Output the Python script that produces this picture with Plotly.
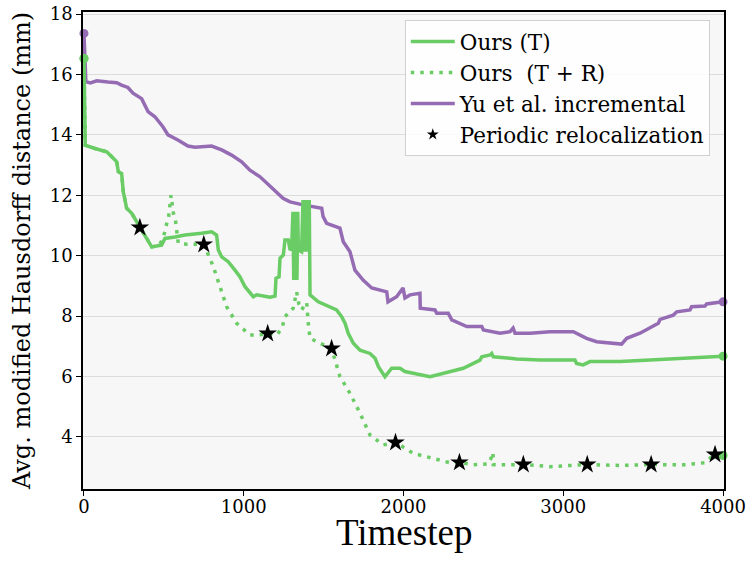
import plotly.graph_objects as go

# ---- data ------------------------------------------------------------------
yu_x = [0, 12, 40, 80, 150, 205, 235, 275, 307, 361, 401, 444, 494, 526, 588, 651, 695,
        799, 862, 924, 987, 1039, 1102, 1185, 1246, 1290, 1371, 1488, 1497, 1519, 1602,
        1623, 1665, 1696, 1747, 1801, 1895, 1903, 1957, 1997, 2009, 2041, 2103, 2105,
        2197, 2208, 2280, 2302, 2396, 2490, 2500, 2604, 2667, 2686, 2698, 2792, 2917,
        3063, 3146, 3209, 3365, 3397, 3480, 3595, 3606, 3689, 3710, 3793, 3803, 3887,
        3897, 4000]
yu_y = [17.36, 15.76, 15.72, 15.79, 15.75, 15.73, 15.65, 15.57, 15.38, 15.2, 14.77, 14.6,
        14.27, 14.0, 13.83, 13.63, 13.59, 13.63, 13.5, 13.33, 13.11, 12.83, 12.61, 12.2,
        11.9, 11.78, 11.68, 11.57, 11.29, 11.07, 10.91, 10.46, 10.13, 9.52, 9.19, 8.93,
        8.8, 8.47, 8.64, 8.93, 8.6, 8.7, 8.75, 8.26, 8.2, 8.09, 8.09, 7.87, 7.65, 7.65,
        7.54, 7.43, 7.48, 7.6, 7.43, 7.43, 7.48, 7.48, 7.26, 7.15, 7.07, 7.26, 7.43, 7.76,
        7.89, 8.03, 8.14, 8.2, 8.31, 8.33, 8.4, 8.47]

ours_t_x = [0, 8, 69, 142, 173, 205, 215, 236, 246, 267, 299, 330, 382, 424, 486, 507,
            570, 632, 736, 799, 830, 841, 862, 903, 945, 976, 1008, 1060, 1081, 1164,
            1196, 1202, 1221, 1227, 1248, 1258, 1279, 1290, 1300,
            1308, 1313, 1318, 1323, 1328, 1333, 1338, 1342, 1352, 1362,
            1371, 1376, 1381, 1386, 1391, 1396, 1401, 1406, 1410,
            1415, 1467, 1519, 1581, 1613, 1634, 1654, 1686, 1728, 1790, 1822, 1843,
            1884, 1926, 1978, 2009, 2166, 2270, 2374, 2479, 2490, 2542, 2552, 2562,
            2708, 2854, 3073, 3083, 3125, 3167, 3355, 3543, 3752, 4000]
ours_t_y = [16.53, 13.66, 13.55, 13.44, 13.28, 13.11, 12.78, 12.72, 12.12, 11.57, 11.4,
            11.12, 10.62, 10.29, 10.35, 10.57, 10.62, 10.68, 10.74, 10.79, 10.68, 10.19,
            9.96, 9.8, 9.52, 9.3, 8.97, 8.64, 8.7, 8.62, 8.66, 9.25, 9.3, 9.91, 10.02,
            10.52, 10.52, 10.19, 10.24,
            11.45, 9.19, 11.45, 9.19, 11.45, 9.19, 11.45, 10.19, 10.16, 10.13,
            11.84, 10.13, 11.84, 10.13, 11.84, 10.13, 11.84, 10.13, 11.84,
            8.7, 8.47, 8.36, 8.2, 7.98, 7.76, 7.43, 7.1, 6.87, 6.76, 6.6, 6.32,
            5.99, 6.27, 6.27, 6.16, 5.99, 6.14, 6.27, 6.54, 6.65, 6.71, 6.76, 6.65,
            6.58, 6.54, 6.54, 6.43, 6.38, 6.49, 6.49, 6.54, 6.6, 6.67]

ours_tr_x = [0, 8, 69, 142, 173, 205, 215, 236, 246, 267, 299, 330, 351, 382, 424, 470,
             497, 515, 530, 545, 560, 572, 580, 590, 640, 700, 751, 810, 851, 893, 956,
             1039, 1100, 1154, 1206, 1240, 1258, 1290, 1310, 1331, 1345, 1362, 1394,
             1404, 1415, 1477, 1550, 1602, 1665, 1728, 1790, 1873, 1953, 2061, 2186,
             2291, 2354, 2437, 2530, 2545, 2560, 2562, 2604, 2750, 2917, 3146, 3355,
             3543, 3752, 3887, 3944, 4000]
ours_tr_y = [16.53, 13.66, 13.55, 13.44, 13.28, 13.11, 12.78, 12.72, 12.12, 11.57, 11.4,
             11.12, 10.93, 10.62, 10.29, 10.33, 10.6, 11.0, 11.3, 12.0, 11.4, 11.2, 10.9,
             10.42, 10.38, 10.36, 10.37, 9.63, 8.97, 8.31, 7.76, 7.37, 7.38, 7.42, 7.37,
             7.6, 7.98, 8.14, 8.26, 8.8, 8.4, 8.2, 8.45, 7.76, 7.26, 7.1, 6.92, 6.0,
             5.44, 4.78, 4.06, 3.73, 3.81, 3.45, 3.29, 3.14, 3.15, 3.07, 3.1, 3.25,
             3.48, 3.08, 3.07, 3.08, 3.01, 3.08, 3.05, 3.08, 3.07, 3.14, 3.41, 3.38]

reloc_x = [350, 750, 1150, 1550, 1950, 2350, 2750, 3150, 3550, 3950]
reloc_y = [10.93, 10.37, 7.42, 6.92, 3.81, 3.15, 3.08, 3.08, 3.08, 3.41]

x_ticks = [0, 1000, 2000, 3000, 4000]
y_ticks = [4, 6, 8, 10, 12, 14, 16, 18]

GREEN = "#6acc64"
PURPLE = "#956cb4"
SERIF = "DejaVu Serif"
LW = 3.5

fig = go.Figure()

# Yu et al. incremental
fig.add_trace(go.Scatter(
    x=yu_x, y=yu_y, mode="lines", name="Yu et al. incremental",
    line=dict(color=PURPLE, width=LW), legendrank=3,
))
# Ours (T + R), dotted
fig.add_trace(go.Scatter(
    x=ours_tr_x, y=ours_tr_y, mode="lines", name="Ours  (T + R)",
    line=dict(color=GREEN, width=LW, dash="3.5px,6px"), legendrank=2,
))
# Ours (T)
fig.add_trace(go.Scatter(
    x=ours_t_x, y=ours_t_y, mode="lines", name="Ours (T)",
    line=dict(color=GREEN, width=LW), legendrank=1,
))

# end-point dots
for xs, ys, col in [(yu_x, yu_y, PURPLE), (ours_tr_x, ours_tr_y, GREEN),
                    (ours_t_x, ours_t_y, GREEN)]:
    fig.add_trace(go.Scatter(
        x=[xs[0], xs[-1]], y=[ys[0], ys[-1]], mode="markers",
        marker=dict(color=col, size=9), showlegend=False, hoverinfo="skip",
        cliponaxis=False,
    ))

# relocalization stars (legend gets a smaller star, as in the original)
fig.add_trace(go.Scatter(
    x=reloc_x, y=reloc_y, mode="markers", showlegend=False,
    marker=dict(symbol="star", color="black", size=14, line=dict(width=0)),
))
fig.add_trace(go.Scatter(
    x=[None], y=[None], mode="markers", name="Periodic relocalization",
    marker=dict(symbol="star", color="black", size=9, line=dict(width=0)),
    legendrank=4,
))

fig.update_layout(
    width=747, height=561,
    margin=dict(l=83, r=23, t=12, b=72, autoexpand=False),
    paper_bgcolor="white",
    plot_bgcolor="#f7f7f7",
    font=dict(family=SERIF, color="black", size=17),
    showlegend=True,
    legend=dict(
        x=0.502, y=0.983, xanchor="left", yanchor="top",
        bgcolor="rgba(255,255,255,0.85)", bordercolor="#d0d0d0", borderwidth=1,
        font=dict(family=SERIF, size=21.5, color="black"),
        itemwidth=44,
    ),
    annotations=[dict(
        text="Timestep", xref="paper", yref="paper", x=0.5, y=-0.092,
        xanchor="center", yanchor="middle", showarrow=False,
        font=dict(family="Liberation Serif", size=37, color="black"),
    )],
)

fig.update_xaxes(
    range=[-6, 4006], tickvals=x_ticks, showgrid=False, zeroline=False,
    showline=True, linecolor="black", linewidth=1.5, mirror=True,
    ticks="outside", ticklen=5, tickcolor="black", ticklabelstandoff=-4,
    tickfont=dict(family=SERIF, size=18), automargin=False,
)
fig.update_yaxes(
    range=[2.27, 18.07], tickvals=y_ticks, showgrid=True, gridcolor="#dcdcdc",
    gridwidth=1, zeroline=False,
    showline=True, linecolor="black", linewidth=1.5, mirror=True,
    ticks="outside", ticklen=5, tickcolor="black",
    tickfont=dict(family=SERIF, size=18), automargin=False,
    title=dict(text="Avg. modified Hausdorff distance (mm)",
               font=dict(family=SERIF, size=24), standoff=12),
)

# the page body has a default 8px margin; drop it so the figure sits at (0, 0)
fig.write_html("out.html", config={"displayModeBar": False},
               post_script="document.body.style.margin='0';")
